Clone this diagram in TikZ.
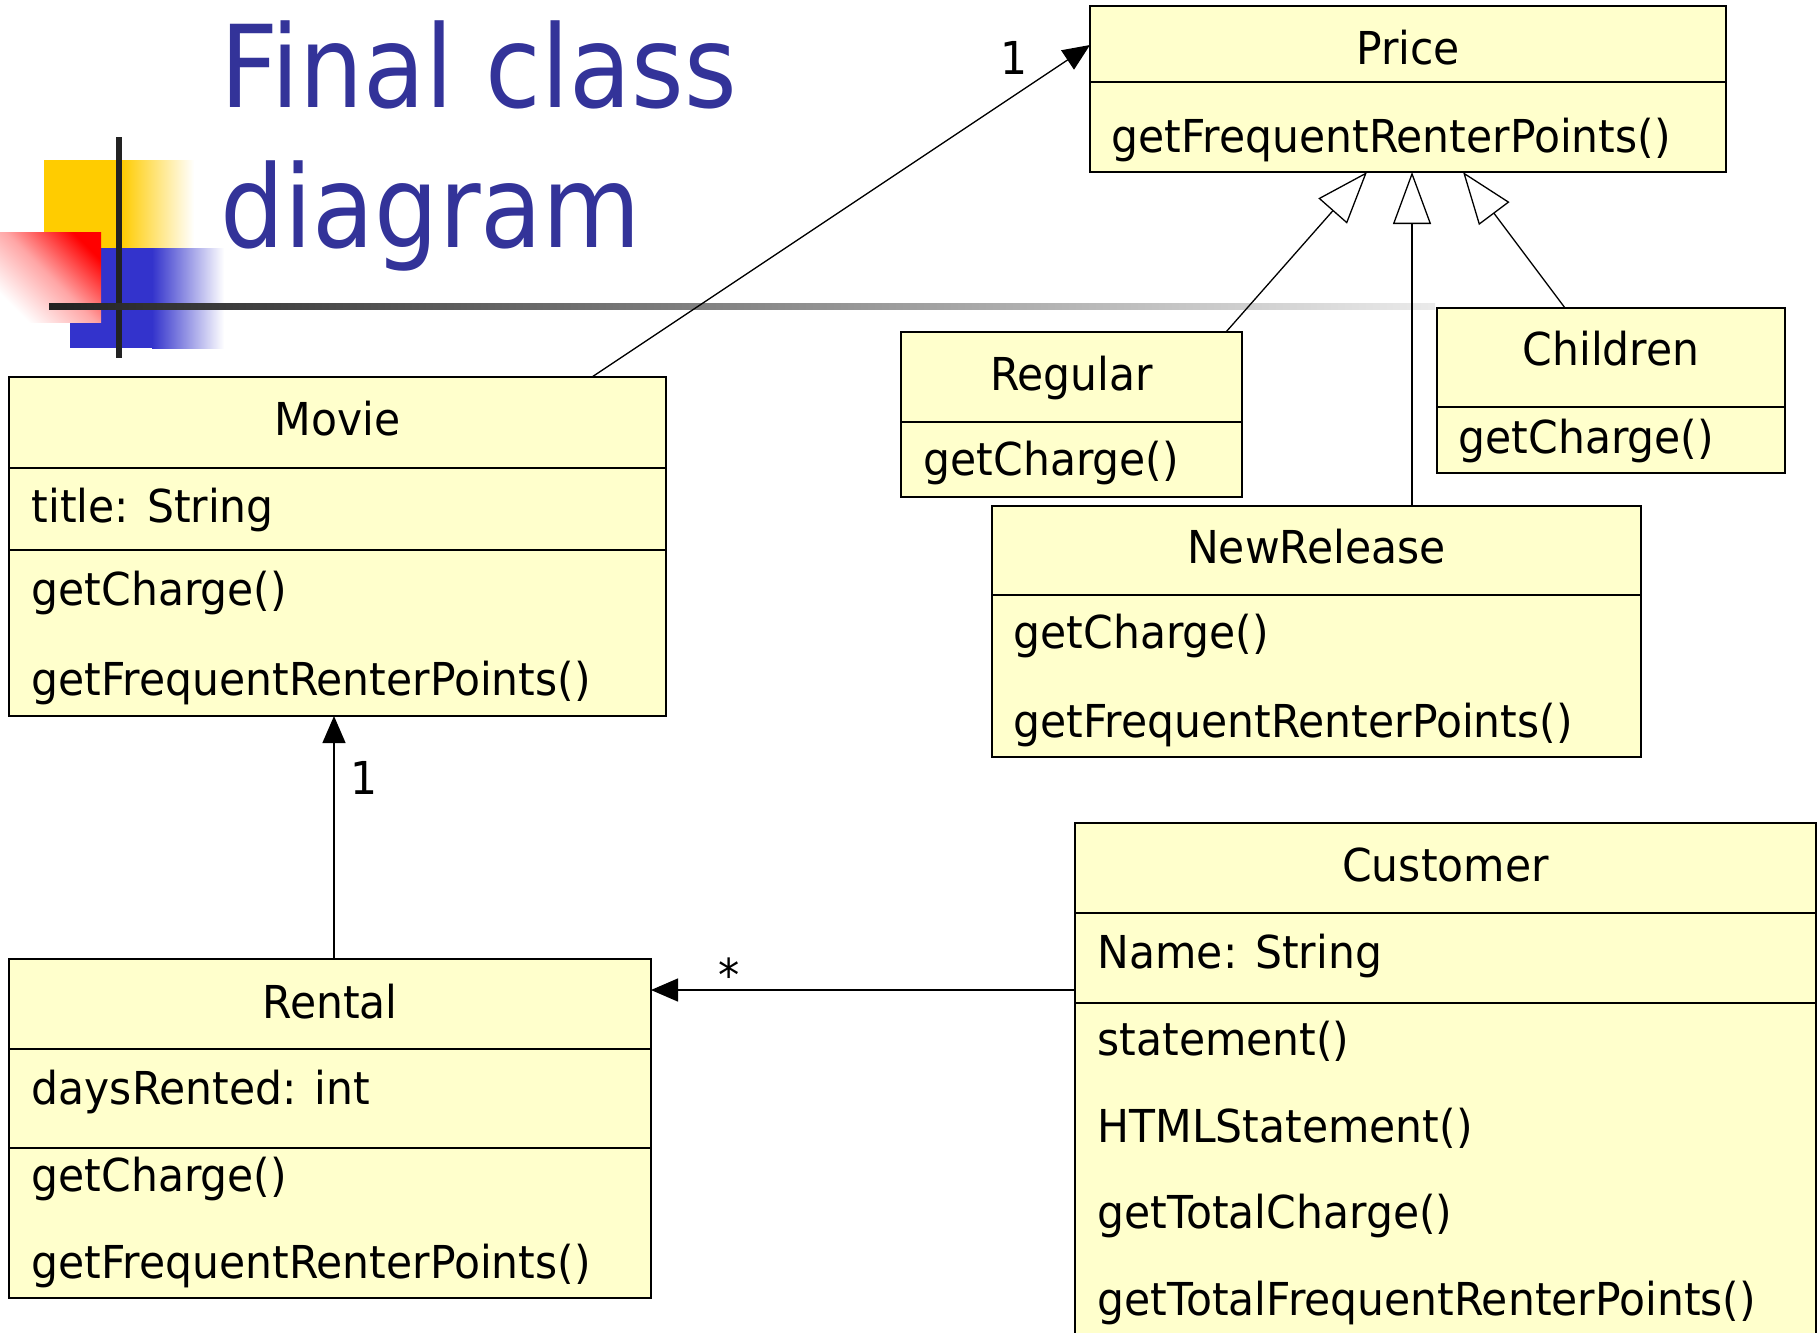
\documentclass[tikz,border=0pt]{standalone}
\usepackage{fontspec}
\setmainfont{DejaVu Sans}[FakeStretch=0.937]
\newfontfamily\titlefont{DejaVu Sans}[FakeStretch=0.885]
\usetikzlibrary{arrows.meta,calc}
\definecolor{titleblue}{RGB}{51,51,153}
\definecolor{classfill}{RGB}{255,255,204}
\definecolor{decoyellow}{RGB}{255,204,0}
\definecolor{decoblue}{RGB}{51,51,204}
\definecolor{decoblack}{RGB}{34,34,34}
\pgfdeclarehorizontalshading{redfade}{100bp}{color(0bp)=(white); color(25bp)=(white); color(50bp)=(red!35); color(75bp)=(red); color(100bp)=(red)}
\tikzset{
	classbox/.style={draw, fill=classfill, line width=0.2mm, inner sep=0pt, outer sep=0pt, anchor=north west},
	classline/.style={line width=0.15mm},
	cname/.style={anchor=base, inner sep=0pt, font=\fontsize{12.9}{15}\selectfont},
	member/.style={anchor=base west, inner sep=0pt, font=\fontsize{12.9}{15}\selectfont},
	mult/.style={inner sep=0pt, font=\fontsize{12.9}{15}\selectfont},
	assoc/.style={line width=0.13mm, -{Triangle[length=2.7mm,width=2.3mm]}},
	inherit/.style={line width=0.13mm, -{Triangle[open,length=5.2mm,width=3.8mm]}},
	slidetitle/.style={anchor=base west, inner sep=0pt, text=titleblue, font=\titlefont\fontsize{32.5}{38}\selectfont},
}
\begin{document}
\begin{tikzpicture}[x=0.1mm, y=-0.1mm]
	\useasboundingbox (0,0) rectangle (1820,1332);
	\clip (0,0) rectangle (1820,1332);

	\fill[decoyellow] (44,160) rectangle (122,248);
	\shade[left color=decoyellow, right color=white] (121,160) rectangle (194,248);
	\fill[decoblue] (70,248) rectangle (153,348);
	\shade[left color=decoblue, right color=white] (152,248) rectangle (224,348);
	\shade[shading=redfade, shading angle=45] (0,232) rectangle (101,322);
	\fill[decoblack] (116,137) rectangle (122,358);
	\shade[left color=decoblack, right color=black!8] (49,303) rectangle (1435,309);

	\node[slidetitle] (title1) at (220,107) {Final class};
	\node[slidetitle] (title2) at (220,247) {diagram};

	\node[classbox, minimum width=63.6mm, minimum height=16.6mm] (price) at (1090,6) {};
	\draw[classline] (1090,82) -- (1726,82);
	\node[cname] (price-n) at (1408,64) {Price};
	\node[member] (price-m1) at (1111,152) {getFrequentRenterPoints()};

	\node[classbox, minimum width=34.1mm, minimum height=16.5mm] (regular) at (901,332) {};
	\draw[classline] (901,422) -- (1242,422);
	\node[cname] (regular-n) at (1071.5,390) {Regular};
	\node[member] (regular-m1) at (923,475) {getCharge()};

	\node[classbox, minimum width=34.8mm, minimum height=16.5mm] (children) at (1437,308) {};
	\draw[classline] (1437,407) -- (1785,407);
	\node[cname] (children-n) at (1611,365) {Children};
	\node[member] (children-m1) at (1458,453) {getCharge()};

	\node[classbox, minimum width=64.9mm, minimum height=25.1mm] (newrelease) at (992,506) {};
	\draw[classline] (992,595) -- (1641,595);
	\node[cname] (newrelease-n) at (1316.5,563) {NewRelease};
	\foreach \y/\t [count=\k] in {648/getCharge(), 737/getFrequentRenterPoints()}{
		\node[member] (newrelease-m\k) at (1013,\y) {\t};
	}

	\node[classbox, minimum width=65.7mm, minimum height=33.9mm] (movie) at (9,377) {};
	\draw[classline] (9,468) -- (666,468);
	\draw[classline] (9,550) -- (666,550);
	\node[cname] (movie-n) at (337.5,435) {Movie};
	\foreach \y/\t [count=\k] in {522/title: String, 605/getCharge(), 695/getFrequentRenterPoints()}{
		\node[member] (movie-m\k) at (31,\y) {\t};
	}

	\node[classbox, minimum width=64.2mm, minimum height=33.9mm] (rental) at (9,959) {};
	\draw[classline] (9,1049) -- (651,1049);
	\draw[classline] (9,1148) -- (651,1148);
	\node[cname] (rental-n) at (330,1018) {Rental};
	\foreach \y/\t [count=\k] in {1104/daysRented: int, 1191/getCharge(), 1278/getFrequentRenterPoints()}{
		\node[member] (rental-m\k) at (31,\y) {\t};
	}

	\node[classbox, minimum width=74.1mm, minimum height=52.5mm] (customer) at (1075,823) {};
	\draw[classline] (1075,913) -- (1816,913);
	\draw[classline] (1075,1003) -- (1816,1003);
	\node[cname] (customer-n) at (1445.5,881) {Customer};
	\foreach \y/\t [count=\k] in {968/Name: String, 1055/statement(), 1142/HTMLStatement(), 1228/getTotalCharge(), 1315/getTotalFrequentRenterPoints()}{
		\node[member] (customer-m\k) at (1097,\y) {\t};
	}

	\draw[assoc] ($(movie.north west)+(583,0)$) -- ($(price.north west)+(0,39)$);
	\draw[assoc] ($(rental.north west)+(325,0)$) -- ($(movie.south west)+(325,0)$);
	\draw[assoc] ($(customer.north west)+(0,167)$) -- ($(rental.north east)+(0,31)$);
	\draw[inherit] ($(regular.north west)+(325,0)$) -- ($(price.south west)+(277,0)$);
	\draw[inherit] ($(newrelease.north west)+(420,0)$) -- ($(price.south west)+(322,0)$);
	\draw[inherit] ($(children.north west)+(128,0)$) -- ($(price.south west)+(373,0)$);

	\node[mult] (mult-price) at (1014,58) {1};
	\node[mult] (mult-movie) at (364,778) {1};
	\node[mult] (mult-rental) at (729,975) {*};
\end{tikzpicture}
\end{document}
